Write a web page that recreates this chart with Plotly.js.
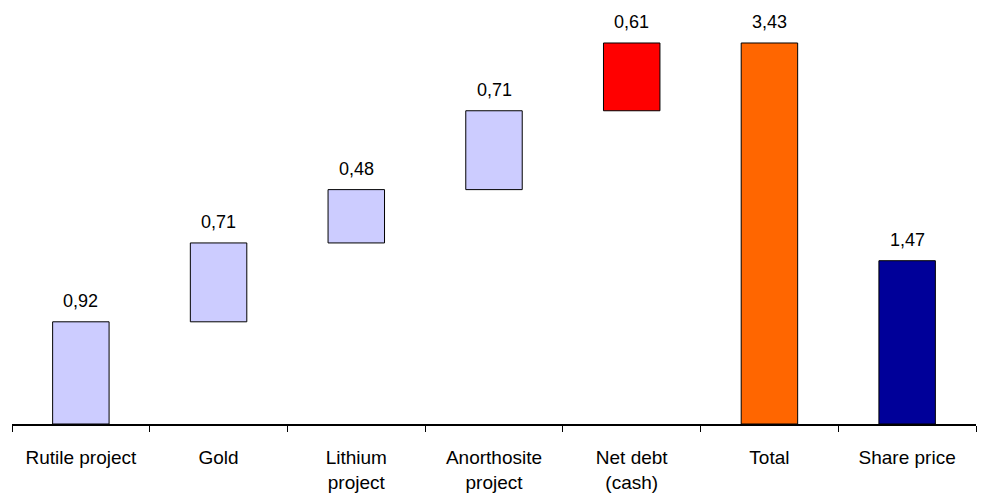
<!DOCTYPE html>
<html>
<head>
<meta charset="utf-8">
<script src="https://cdn.plot.ly/plotly-3.0.1.min.js"></script>
<style>html,body{margin:0;padding:0;background:#fff;}#chart{width:983px;height:493px;}</style>
</head>
<body>
<div id="chart"></div>
<script>
const categories = ["Rutile project", "Gold", "Lithium<br>project", "Anorthosite<br>project", "Net debt<br>(cash)", "Total", "Share price"];
const values = [0.92, 0.71, 0.48, 0.71, 0.61, 3.43, 1.47];
const barKinds = ["step", "step", "step", "step", "step", "total", "price"];
const colors = ["#CCCCFF", "#CCCCFF", "#CCCCFF", "#CCCCFF", "#FF0000", "#FF6600", "#000099"];

// bases: cumulative for step bars, zero for total/price
const bases = [];
let run = 0;
for (let i = 0; i < values.length; i++) {
  if (barKinds[i] === "step") { bases.push(run); run += values[i]; }
  else bases.push(0);
}
const labels = values.map(v => v.toFixed(2).replace('.', ','));

const trace = {
  type: 'bar',
  x: categories,
  y: values,
  base: bases,
  marker: {color: colors, line: {color: '#000000', width: 1}},
  width: 0.41,
  hoverinfo: 'none'
};

const annotations = categories.map((c, i) => ({
  x: c, y: bases[i] + values[i], xref: 'x', yref: 'y',
  text: labels[i], showarrow: false, yanchor: 'bottom', yshift: 9,
  font: {family: 'Liberation Sans, Arial, sans-serif', size: 18, color: '#000'}
}));

const layout = {
  width: 983, height: 493,
  margin: {l: 12, r: 7, t: 10, b: 69},
  paper_bgcolor: '#fff', plot_bgcolor: '#fff',
  showlegend: false,
  font: {family: 'Liberation Sans, Arial, sans-serif', size: 19, color: '#000'},
  xaxis: {
    type: 'category', showline: true, linecolor: '#000', linewidth: 2,
    ticks: 'outside', tickson: 'boundaries', ticklen: 6, tickwidth: 1, tickcolor: '#000',
    ticklabelstandoff: 15,
    showgrid: false, zeroline: false, fixedrange: true,
    tickfont: {family: 'Liberation Sans, Arial, sans-serif', size: 19, color: '#000'}
  },
  yaxis: {visible: false, range: [0, 3.727], showgrid: false, zeroline: false, fixedrange: true},
  annotations: annotations
};

Plotly.newPlot('chart', [trace], layout, {displayModeBar: false, staticPlot: true});
</script>
</body>
</html>
